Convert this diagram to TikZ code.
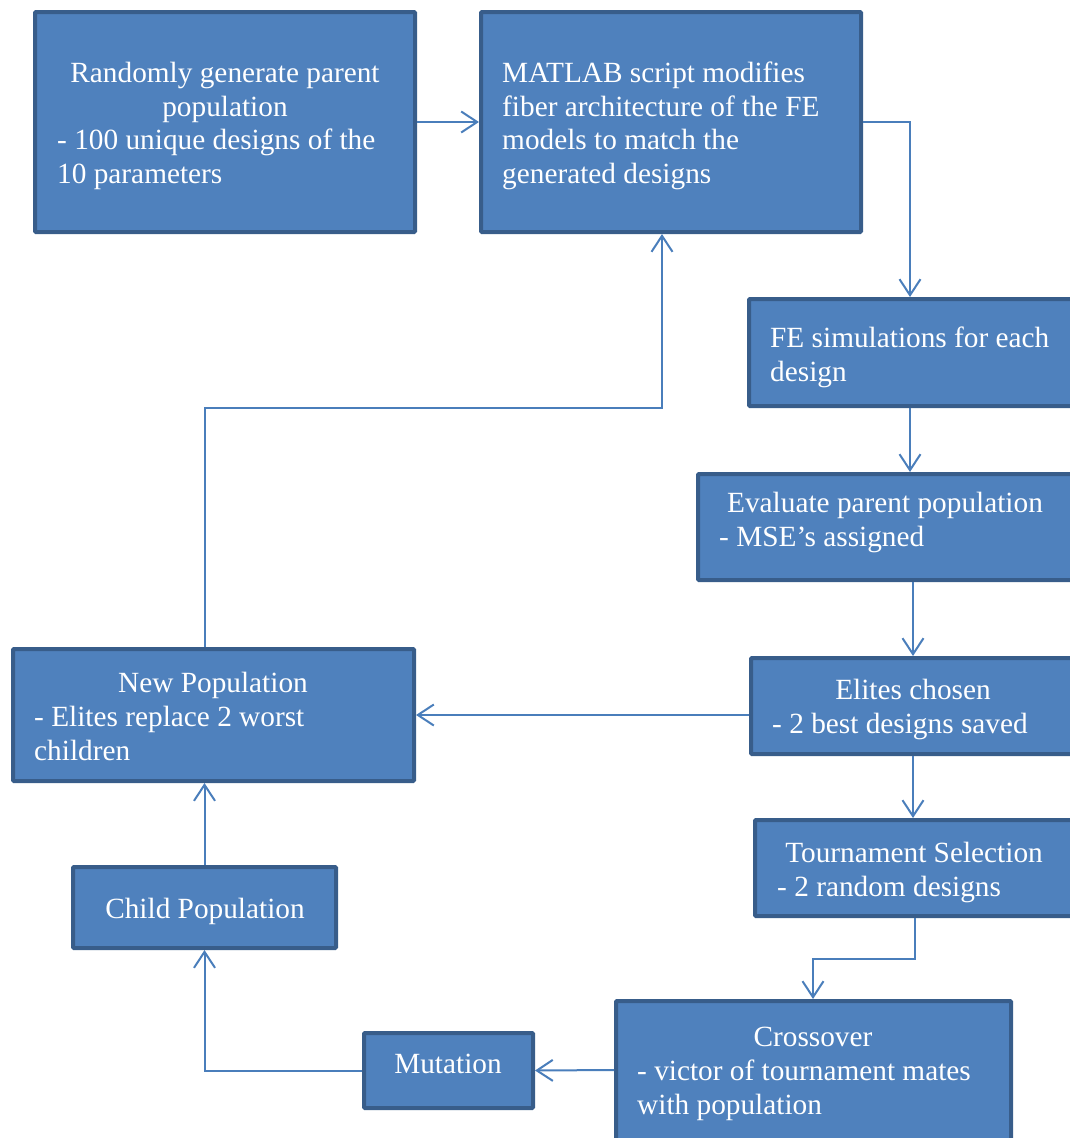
\documentclass[tikz,border=0pt]{standalone}
\usepackage{fontspec}
\setmainfont{Liberation Serif}
\usetikzlibrary{arrows.meta}
\definecolor{boxfill}{HTML}{4F81BD}
\definecolor{boxline}{HTML}{385D8A}
\definecolor{conn}{HTML}{4A7EBB}
\begin{document}
\begin{tikzpicture}[x=1pt,y=-1pt,
  box/.style={draw=boxline,fill=boxfill,line width=4pt,rounded corners=1pt,inner sep=0pt},
  lbl/.style={inner sep=0pt,text=white,font=\fontsize{29.3}{33.7}\selectfont},
  ll/.style={lbl,anchor=base west},
  lc/.style={lbl,anchor=base},
  conn/.style={draw=conn,line width=2pt,-{Straight Barb[length=16pt,width=21pt,line width=2pt]}}]
\useasboundingbox (0,0) rectangle (1069,1138);
% boxes
\node[box,minimum width=380pt,minimum height=220pt] (rand) at (225,122) {};
\node[box,minimum width=380pt,minimum height=220pt] (matlab) at (671,122) {};
\node[box,minimum width=331pt,minimum height=107pt] (fesim) at (914.5,352.5) {};
\node[box,minimum width=382pt,minimum height=106pt] (eval) at (889,527) {};
\node[box,minimum width=329pt,minimum height=96pt] (elite) at (915.5,706) {};
\node[box,minimum width=325pt,minimum height=96pt] (tourn) at (917.5,868) {};
\node[box,minimum width=395pt,minimum height=149pt] (cross) at (813.5,1075.5) {};
\node[box,minimum width=169pt,minimum height=75pt] (mut) at (448.5,1070.5) {};
\node[box,minimum width=263pt,minimum height=81pt] (child) at (204.5,907.5) {};
\node[box,minimum width=401pt,minimum height=132pt] (newpop) at (213.5,715) {};
% texts
\node[lc] (t1a) at (225,82) {Randomly generate parent};
\node[lc] (t1b) at (225,116) {population};
\node[ll] (t1c) at (57,149) {- 100 unique designs of the};
\node[ll] (t1d) at (57,183) {10 parameters};
\node[ll] (t2a) at (502,82) {MATLAB script modifies};
\node[ll] (t2b) at (502,116) {fiber architecture of the FE};
\node[ll] (t2c) at (502,149) {models to match the};
\node[ll] (t2d) at (502,183) {generated designs};
\node[ll] (t3a) at (770,347) {FE simulations for each};
\node[ll] (t3b) at (770,381) {design};
\node[lc] (t4a) at (885,512) {Evaluate parent population};
\node[ll] (t4b) at (719,546) {- MSE’s assigned};
\node[lc] (t5a) at (913,699) {Elites chosen};
\node[ll] (t5b) at (772,733) {- 2 best designs saved};
\node[lc] (t6a) at (914,862) {Tournament Selection};
\node[ll] (t6b) at (777,896) {- 2 random designs};
\node[lc] (t7a) at (813,1046) {Crossover};
\node[ll] (t7b) at (637,1080) {- victor of tournament mates};
\node[ll] (t7c) at (637,1114) {with population};
\node[lc] (t8a) at (448,1073) {Mutation};
\node[lc] (t9a) at (205,918) {Child Population};
\node[lc] (t10a) at (213,692) {New Population};
\node[ll] (t10b) at (34,726) {- Elites replace 2 worst};
\node[ll] (t10c) at (34,760) {children};
% connectors
\draw[conn] (rand.east) -- (matlab.west);
\draw[conn] (matlab.east) -| (fesim.north -| 910,0);
\draw[conn] (fesim.south -| 910,0) -- (eval.north -| 910,0);
\draw[conn] (eval.south -| 913,0) -- (elite.north -| 913,0);
\draw[conn] (elite.south -| 913,0) -- (tourn.north -| 913,0);
\draw[conn] (elite.west |- 0,715) -- (newpop.east |- 0,715);
\draw[conn] (tourn.south -| 915,0) |- (813,959) -- (cross.north -| 813,0);
\draw[conn] (cross.west |- 0,1070) -- (mut.east);
\draw[conn] (mut.west) -| (child.south);
\draw[conn] (child.north) -- (newpop.south -| child.north);
\draw[conn] (newpop.north -| 205,0) |- (662,408) -- (matlab.south -| 662,0);
\end{tikzpicture}
\end{document}
